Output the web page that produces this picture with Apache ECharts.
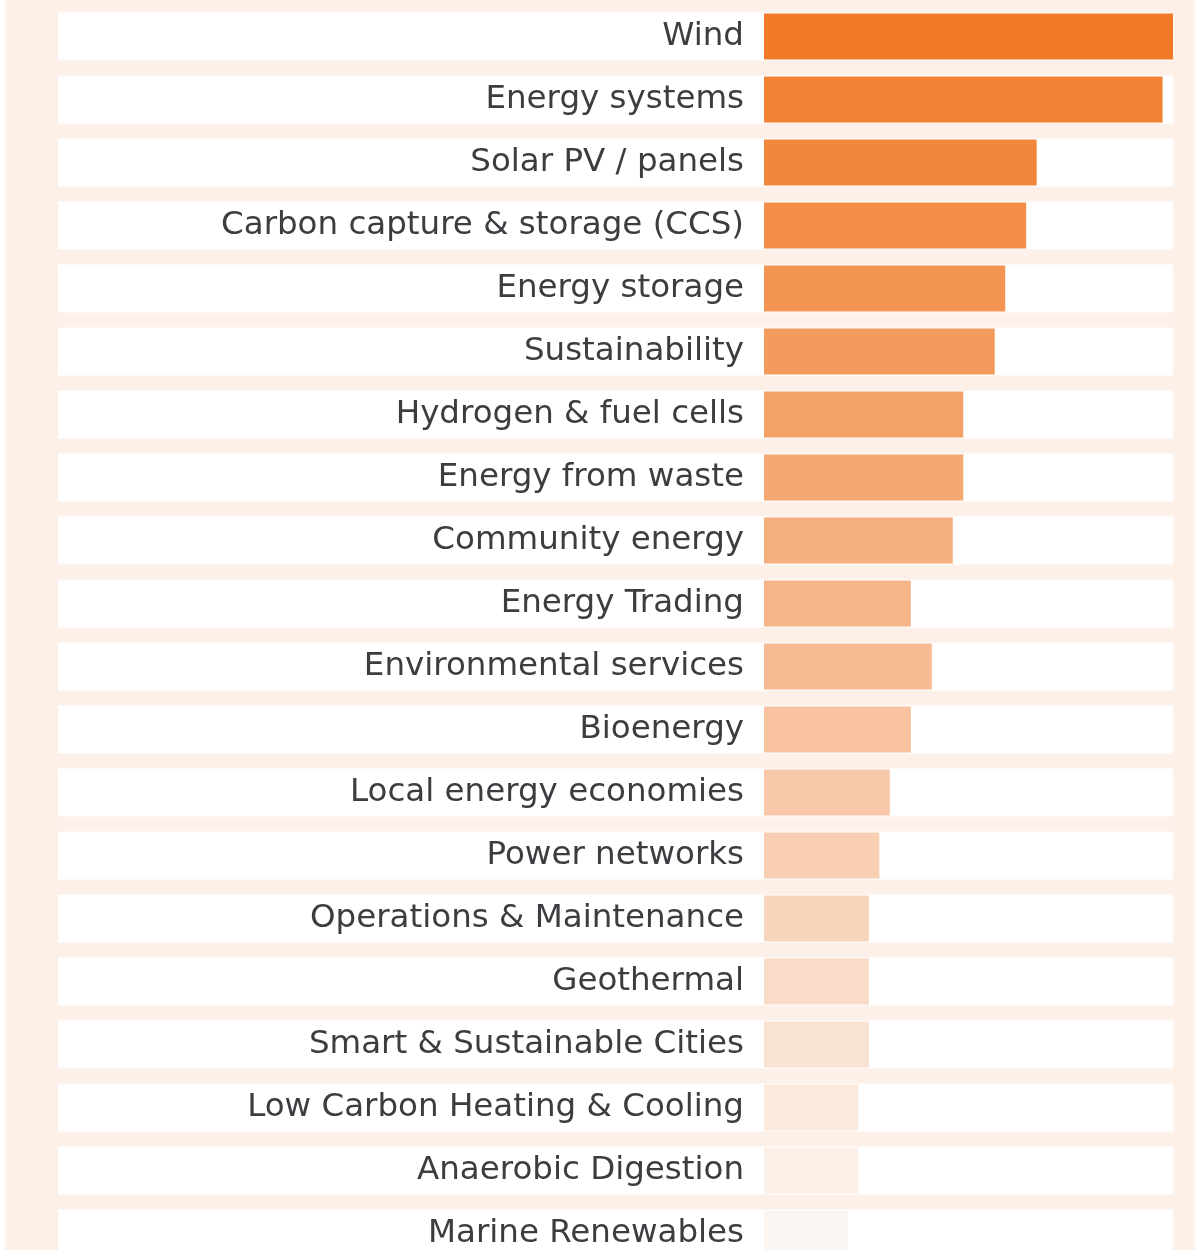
<!DOCTYPE html>
<html>
<head>
<meta charset="utf-8">
<script src="https://cdn.jsdelivr.net/npm/echarts@6/dist/echarts.min.js"></script>
<style>
  html, body { margin: 0; padding: 0; background: #fff; overflow: hidden; }
  #main {
    width: 1195px;
    height: 1270px;
    background: linear-gradient(to right, #ffffff 5px, #fdf0e8 5px);
  }
</style>
</head>
<body>
<div id="main"></div>
<script>
// 分类
const categories = [
    'Wind', 'Energy systems', 'Solar PV / panels', 'Carbon capture & storage (CCS)',
    'Energy storage', 'Sustainability', 'Hydrogen & fuel cells', 'Energy from waste',
    'Community energy', 'Energy Trading', 'Environmental services', 'Bioenergy',
    'Local energy economies', 'Power networks', 'Operations & Maintenance', 'Geothermal',
    'Smart & Sustainable Cities', 'Low Carbon Heating & Cooling', 'Anaerobic Digestion',
    'Marine Renewables'
];

// 数值
const values = [39, 38, 26, 25, 23, 22, 19, 19, 18, 14, 16, 14, 12, 11, 10, 10, 10, 9, 9, 8];

const xMax = 39;

// 颜色从深橙到浅色
const colorFrom = [240, 122, 40];
const colorTo = [252, 246, 242];
const barColors = categories.map((c, i) => {
    let t = i / (categories.length - 1);
    let rgb = colorFrom.map((v, k) => Math.round(v + (colorTo[k] - v) * t));
    return 'rgb(' + rgb.join(',') + ')';
});

const hidden = { show: false };

let chart = echarts.init(document.getElementById('main'), null, { renderer: 'canvas' });

// 每行 63px，容器比窗口高，最后一行被截掉
let grid = [
    { left: 58, right: 22, top: 5, bottom: 5, containLabel: false },
    { left: 764, right: 22, top: 5, bottom: 5, containLabel: false }
];

let xAxis = [0, 1].map(g => ({
    type: 'value',
    gridIndex: g,
    min: 0,
    max: xMax,
    splitLine: hidden,
    axisLine: hidden,
    axisLabel: hidden,
    axisTick: hidden
}));

let yAxis = [
    {
        type: 'category',
        gridIndex: 0,
        data: categories,
        inverse: true,
        splitLine: hidden,
        axisLine: hidden,
        axisLabel: hidden,
        axisTick: hidden
    },
    {
        type: 'category',
        gridIndex: 1,
        data: categories,
        inverse: true,
        z: 5,
        splitLine: hidden,
        axisLine: hidden,
        axisTick: hidden,
        axisLabel: {
            show: true,
            margin: 20,
            fontFamily: 'DejaVu Sans',
            fontSize: 32.5,
            color: '#3b3d40',
            padding: [3, 0, 0, 0]
        }
    }
];

let series = [
    {
        name: 'rows',
        type: 'bar',
        xAxisIndex: 0,
        yAxisIndex: 0,
        barWidth: 48,
        silent: true,
        z: 1,
        itemStyle: { color: '#ffffff' },
        data: categories.map(() => xMax)
    },
    {
        name: 'count',
        type: 'bar',
        xAxisIndex: 1,
        yAxisIndex: 1,
        barWidth: 46,
        z: 2,
        data: values.map((v, i) => ({ value: v, itemStyle: { color: barColors[i] } }))
    }
];

chart.setOption({
    animation: false,
    backgroundColor: 'transparent',
    grid,
    xAxis,
    yAxis,
    series
});
</script>
</body>
</html>
